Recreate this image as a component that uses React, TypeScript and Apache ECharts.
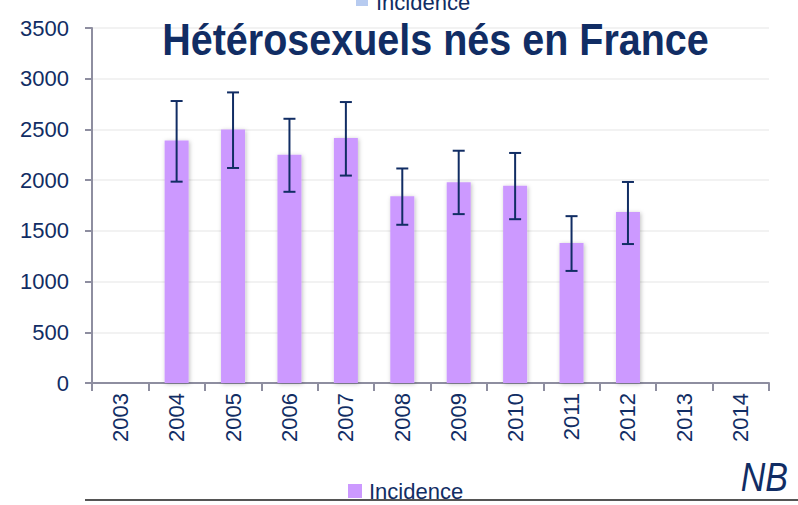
import React, { useEffect, useRef } from "react";
import * as echarts from "echarts";

const years = ["2003", "2004", "2005", "2006", "2007", "2008", "2009", "2010", "2011", "2012", "2013", "2014"];
const incidence: (number | null)[] = [null, 2390, 2500, 2250, 2415, 1840, 1980, 1945, 1380, 1685, null, null];
const errLow: (number | null)[] = [null, 1985, 2120, 1885, 2045, 1560, 1665, 1615, 1105, 1370, null, null];
const errHigh: (number | null)[] = [null, 2780, 2865, 2605, 2770, 2115, 2290, 2268, 1645, 1982, null, null];
const yTicks = [0, 500, 1000, 1500, 2000, 2500, 3000, 3500];

const titleText = "Hétérosexuels nés en France";
const seriesName = "Incidence";

const NAVY = "#112d64";
const FONT = "'Liberation Sans', Arial, sans-serif";

export default function App() {
  const ref = useRef<HTMLDivElement>(null);
  useEffect(() => {
    if (!ref.current) return;
    const chart = echarts.init(ref.current, null, { renderer: "svg" });
    const errData = years.map((_, i) => [i, errLow[i], errHigh[i]]).filter((d) => d[1] != null);
    chart.setOption({
      animation: false,
      backgroundColor: "#ffffff",
      textStyle: { fontFamily: FONT },
      legend: {
        data: [seriesName],
        left: 348,
        top: 480,
        itemWidth: 14,
        itemHeight: 14,
        itemGap: 4,
        icon: "rect",
        textStyle: { fontFamily: FONT, fontSize: 22, color: NAVY, padding: [0, 0, 0, 2] },
        padding: 0,
      },
      grid: { left: 92, right: 29, top: 28, bottom: 122, containLabel: false },
      xAxis: {
        type: "category",
        data: years,
        axisLine: { lineStyle: { color: "#8e8ea0", width: 2 } },
        axisTick: { show: true, length: 8, lineStyle: { color: "#8e8ea0", width: 2 } },
        axisLabel: {
          rotate: 90,
          margin: 10,
          fontFamily: FONT,
          fontSize: 22,
          color: NAVY,
          interval: 0,
        },
      },
      yAxis: {
        type: "value",
        min: 0,
        max: 3500,
        interval: 500,
        axisLine: { show: true, lineStyle: { color: "#8e8ea0", width: 2 } },
        axisTick: { show: true, length: 7, lineStyle: { color: "#8e8ea0", width: 2 } },
        axisLabel: {
          margin: 23,
          fontFamily: FONT,
          fontSize: 22,
          color: NAVY,
          customValues: yTicks,
          formatter: (v: number) => String(v),
        },
        splitLine: { lineStyle: { color: "#eeeeee", width: 1.5 } },
      },
      series: [
        {
          name: seriesName,
          type: "bar",
          data: incidence,
          barWidth: 24,
          itemStyle: {
            color: "#cc99ff",
            shadowBlur: 4,
            shadowColor: "rgba(0,0,0,0.25)",
            shadowOffsetX: 1,
            shadowOffsetY: 1,
          },
          z: 2,
        },
        {
          name: "err",
          type: "custom",
          data: errData,
          z: 5,
          renderItem: (params: any, api: any) => {
            const x = api.value(0);
            const lo = api.coord([x, api.value(1)]);
            const hi = api.coord([x, api.value(2)]);
            const hw = 6;
            const style = { stroke: NAVY, lineWidth: 2 };
            return {
              type: "group",
              children: [
                { type: "line", shape: { x1: lo[0], y1: lo[1], x2: hi[0], y2: hi[1] }, style },
                { type: "line", shape: { x1: hi[0] - hw, y1: hi[1], x2: hi[0] + hw, y2: hi[1] }, style },
                { type: "line", shape: { x1: lo[0] - hw, y1: lo[1], x2: lo[0] + hw, y2: lo[1] }, style },
              ],
            };
          },
        },
      ],
      graphic: [
        {
          type: "text",
          x: 435.5,
          y: 40,
          scaleY: 1.1,
          z: 10,
          style: {
            text: titleText,
            font: `bold 39.5px ${FONT}`,
            fill: NAVY,
            align: "center",
            verticalAlign: "middle",
          },
        },
        { type: "rect", shape: { x: 356, y: -6, width: 12, height: 12 }, style: { fill: "#b7cbf0" } },
        {
          type: "text",
          x: 376,
          y: 13,
          style: { text: seriesName, font: `22px ${FONT}`, fill: NAVY, verticalAlign: "bottom" },
        },
        {
          type: "text",
          x: 788,
          y: 477,
          scaleY: 1.2,
          style: {
            text: "NB",
            font: `italic 34px ${FONT}`,
            fill: NAVY,
            align: "right",
            verticalAlign: "middle",
          },
        },
        { type: "line", shape: { x1: 85, y1: 500, x2: 798, y2: 500 }, style: { stroke: "#555555", lineWidth: 2 } },
      ],
    });
    return () => chart.dispose();
  }, []);
  return <div ref={ref} style={{ position: "fixed", left: 0, top: 0, width: 798, height: 505 }} />;
}
